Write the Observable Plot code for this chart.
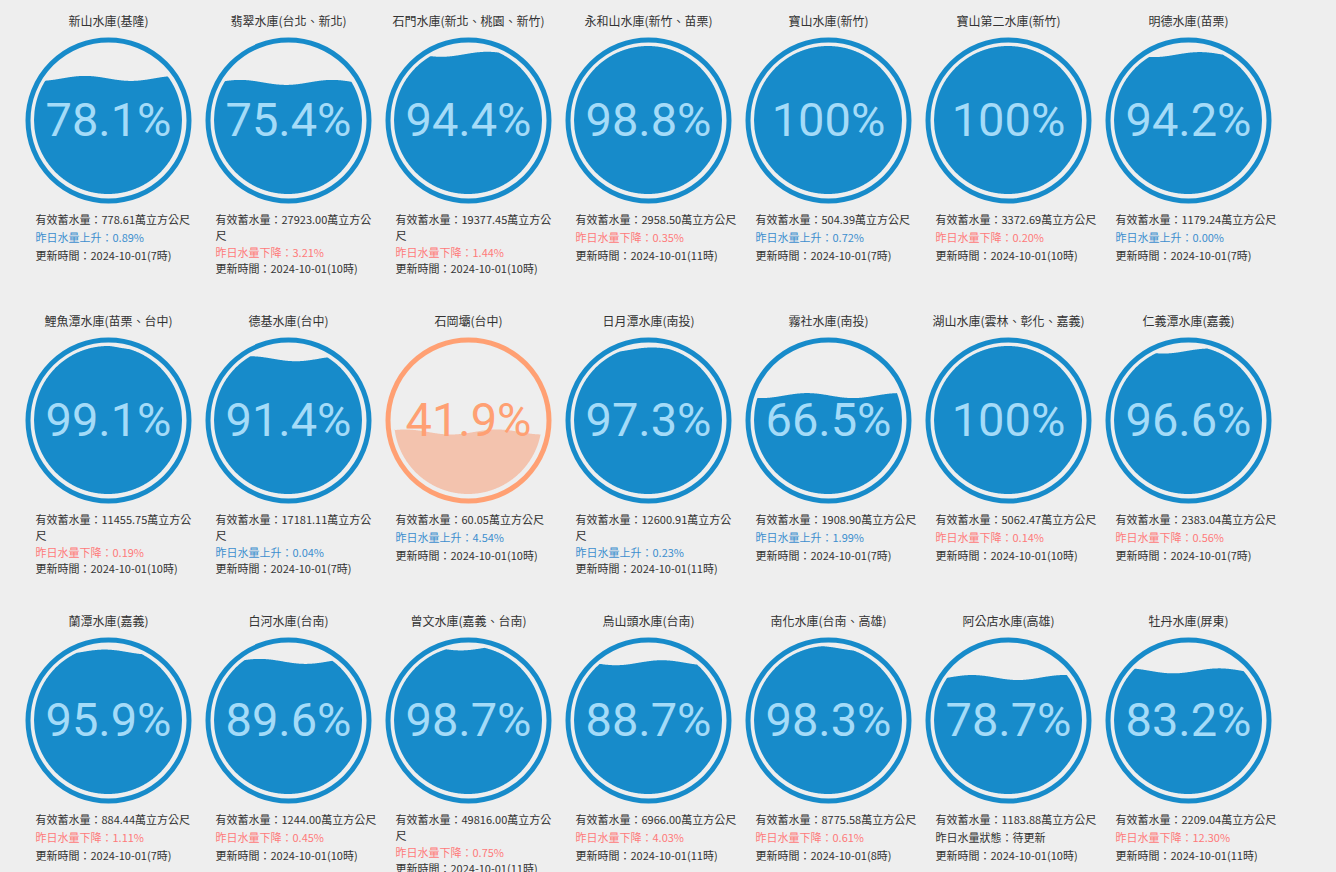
<!DOCTYPE html>
<html>
<head>
<meta charset="utf-8">
<script src="https://cdn.jsdelivr.net/npm/d3@7"></script>
<script src="https://cdn.jsdelivr.net/npm/@observablehq/plot@0.6"></script>
<style>
  html, body { margin: 0; padding: 0; background: #EEEEEE; overflow: hidden; }
  #chart svg { display: block; }
</style>
</head>
<body>
<div id="chart"></div>
<script>
// ---- data ----
const names = ["新山水庫(基隆)","翡翠水庫(台北、新北)","石門水庫(新北、桃園、新竹)","永和山水庫(新竹、苗栗)","寶山水庫(新竹)","寶山第二水庫(新竹)","明德水庫(苗栗)",
  "鯉魚潭水庫(苗栗、台中)","德基水庫(台中)","石岡壩(台中)","日月潭水庫(南投)","霧社水庫(南投)","湖山水庫(雲林、彰化、嘉義)","仁義潭水庫(嘉義)",
  "蘭潭水庫(嘉義)","白河水庫(台南)","曾文水庫(嘉義、台南)","烏山頭水庫(台南)","南化水庫(台南、高雄)","阿公店水庫(高雄)","牡丹水庫(屏東)"];
const percents = [78.1,75.4,94.4,98.8,100,100,94.2, 99.1,91.4,41.9,97.3,66.5,100,96.6, 95.9,89.6,98.7,88.7,98.3,78.7,83.2];
const volumes = ["778.61","27923.00","19377.45","2958.50","504.39","3372.69","1179.24",
  "11455.75","17181.11","60.05","12600.91","1908.90","5062.47","2383.04",
  "884.44","1244.00","49816.00","6966.00","8775.58","1183.88","2209.04"];
const changes = [0.89,-3.21,-1.44,-0.35,0.72,-0.20,0.00, -0.19,0.04,4.54,0.23,1.99,-0.14,-0.56, -1.11,-0.45,-0.75,-4.03,-0.61,null,-12.30];
const updateDate = "2024-10-01";
const updateHours = [7,10,10,11,7,10,7, 10,7,10,11,7,10,7, 7,10,11,11,8,10,11];

// ---- styling constants ----
const COLS = 7;
const BLUE = "#178BCA", BLUE_TEXT = "#A4DBF8";
const ORANGE = "#FFA073", ORANGE_FILL = "#F3C3AE";
const UP = "#3D8FCF", DOWN = "#FF7A7A", INK = "#333333";
const R_RING = 80.5, R_FILL = 74, AMP = 2.5, WAVELEN = 92;
const INFO_FONT = 11, MAX_W = 163;

const ctx = document.createElement("canvas").getContext("2d");
ctx.font = `${INFO_FONT}px 'Noto Sans CJK TC'`;
function wrap(s) {
  const out = []; let cur = "";
  for (const ch of s) {
    if (cur && ctx.measureText(cur + ch).width > MAX_W) { out.push(cur); cur = ch; }
    else cur += ch;
  }
  out.push(cur);
  return out;
}

const gauges = names.map((name, i) => {
  const pct = percents[i];
  const low = pct < 50;
  return {i, name, pct, col: i % COLS, row: Math.floor(i / COLS),
    ring: low ? ORANGE : BLUE, fill: low ? ORANGE_FILL : BLUE,
    textColor: low ? ORANGE : BLUE_TEXT, label: `${pct}%`};
});

// water area (y positive downward, in facet units = px)
const water = [];
for (const g of gauges) {
  const level = R_FILL - (g.pct / 100) * 2 * R_FILL;
  const amp = (g.pct <= 0 || g.pct >= 100) ? 0 : AMP;
  const phase = g.i * 1.7;
  for (let x = -R_FILL; x <= R_FILL + 1e-9; x += 0.5) {
    const h = Math.sqrt(Math.max(0, R_FILL * R_FILL - x * x));
    const w = level + amp * Math.sin(2 * Math.PI * x / WAVELEN + phase);
    water.push({col: g.col, row: g.row, x, top: Math.min(Math.max(w, -h), h), bottom: h, fill: g.fill});
  }
}

// info lines
const info = [];
gauges.forEach((g, i) => {
  const lines = [];
  for (const t of wrap(`有效蓄水量：${volumes[i]}萬立方公尺`)) lines.push({text: t, color: INK});
  const c = changes[i];
  if (c == null) lines.push({text: "昨日水量狀態：待更新", color: INK});
  else if (c >= 0) lines.push({text: `昨日水量上升：${c.toFixed(2)}%`, color: UP});
  else lines.push({text: `昨日水量下降：${Math.abs(c).toFixed(2)}%`, color: DOWN});
  lines.push({text: `更新時間：${updateDate}(${updateHours[i]}時)`, color: INK});
  const step = lines.length > 3 ? 16.3 : 18;
  lines.forEach((l, k) => info.push({col: g.col, row: g.row, k, y: 100 + k * step, ...l}));
});

const chart = Plot.plot({
  width: 1336,
  height: 900,
  marginLeft: 18, marginRight: 58, marginTop: 0, marginBottom: 0,
  style: {background: "#EEEEEE", overflow: "visible"},
  fx: {padding: 0, axis: null},
  fy: {padding: 0, axis: null},
  x: {domain: [-90, 90], axis: null},
  y: {domain: [-120, 180], reverse: true, axis: null},
  marks: [
    Plot.areaY(water, {fx: "col", fy: "row", x: "x", y1: "top", y2: "bottom", fill: "fill"}),
    Plot.dot(gauges, {fx: "col", fy: "row", x: () => 0, y: () => 0, r: R_RING, stroke: "ring", strokeWidth: 5, fill: "none"}),
    Plot.text(gauges, {fx: "col", fy: "row", x: () => 0, y: () => 0, text: "label", fill: "textColor",
      fontSize: 47, fontFamily: "Roboto, 'Noto Sans', sans-serif", lineAnchor: "middle", textAnchor: "middle"}),
    Plot.text(gauges, {fx: "col", fy: "row", x: () => 0, y: () => -98.5, text: "name", fill: INK,
      fontSize: 12, fontFamily: "'Noto Sans CJK TC', sans-serif", lineAnchor: "middle", textAnchor: "middle"}),
    Plot.text(info, {fx: "col", fy: "row", x: () => -73, y: "y", text: "text", fill: "color",
      fontSize: INFO_FONT, fontFamily: "'Noto Sans CJK TC', sans-serif", lineAnchor: "middle", textAnchor: "start"})
  ]
});
document.getElementById("chart").appendChild(chart);
</script>
</body>
</html>
